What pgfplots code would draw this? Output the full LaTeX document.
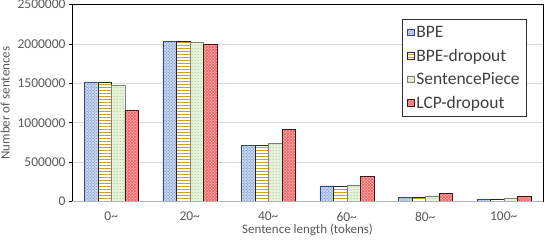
\documentclass[border=0pt]{standalone}
\usepackage{pgfplots}
\pgfplotsset{compat=1.18}
\usepackage{fontspec}
\setmainfont{Carlito}
\usetikzlibrary{patterns}
\definecolor{tickgray}{HTML}{595959}
\definecolor{gridgray}{HTML}{D9D9D9}
\definecolor{bpefill}{HTML}{C9D6EC}
\definecolor{bpedot}{HTML}{4472C4}
\definecolor{bpeedge}{HTML}{2F4A8A}
\definecolor{dropline}{HTML}{C9A227}
\definecolor{spfill}{HTML}{E6F2DA}
\definecolor{spdot}{HTML}{94C571}
\definecolor{spedge}{HTML}{7F7F7F}
\definecolor{lcpfill}{HTML}{F26B6B}
\definecolor{lcpedge}{HTML}{3A1A1A}
\begin{document}
\begin{tikzpicture}
\begin{axis}[
  scale only axis,
  width=471pt, height=197pt,
  ybar=0pt, bar width=13.5pt,
  xmin=-0.5, xmax=5.5,
  ymin=0, ymax=2500000,
  xtick={0,1,2,3,4,5},
  xticklabels={0\textasciitilde,20\textasciitilde,40\textasciitilde,60\textasciitilde,80\textasciitilde,100\textasciitilde},
  ytick={0,500000,1000000,1500000,2000000,2500000},
  scaled y ticks=false,
  yticklabel style={/pgf/number format/fixed,/pgf/number format/1000 sep={}},
  /pgf/number format/assume math mode=true,
  tick label style={font=\fontsize{13.5}{15}\selectfont, text=tickgray},
  label style={font=\fontsize{13}{15}\selectfont, text=tickgray},
  xticklabel style={yshift=-4pt},
  xlabel={Sentence length (tokens)},
  ylabel={Number of sentences},
  xlabel style={yshift=4pt},
  ylabel style={yshift=1pt},
  ymajorgrids, grid style={gridgray, line width=0.6pt},
  axis line style={black, line width=0.8pt},
  x tick style={draw=none},
  y tick style={black, line width=0.6pt},
  ytick pos=left, tick align=outside, major tick length=3pt,
  legend style={at={(0.966,0.924)}, anchor=north east, draw=black!80, line width=0.6pt,
    font=\fontsize{17.5}{19}\selectfont, text=black!75, row sep=6pt,
    inner xsep=5pt, inner ysep=4.5pt, legend cell align=left},
  legend image code/.code={\draw[#1] (0pt,-3pt) rectangle (6.5pt,3.5pt);},
]
\addplot[draw=bpeedge, fill=bpefill, postaction={pattern=crosshatch dots, pattern color=bpedot}]
  coordinates {(0,1516000) (1,2030000) (2,713000) (3,200000) (4,55000) (5,34000)};
\addplot[draw=black!85, fill=white, postaction={pattern=horizontal lines, pattern color=dropline}]
  coordinates {(0,1514000) (1,2029000) (2,712000) (3,199000) (4,55000) (5,34000)};
\addplot[draw=spedge, fill=spfill, postaction={pattern=dots, pattern color=spdot}]
  coordinates {(0,1481000) (1,2020000) (2,735000) (3,212000) (4,64000) (5,36000)};
\addplot[draw=lcpedge, fill=lcpfill, postaction={pattern=crosshatch dots, pattern color=white}]
  coordinates {(0,1155000) (1,1995000) (2,913000) (3,315000) (4,102000) (5,68000)};
\legend{BPE,BPE-dropout,SentencePiece,LCP-dropout}
\draw[black!30, line width=1.4pt] (rel axis cs:0,0) -- (rel axis cs:1,0);
\end{axis}
\pgfresetboundingbox
\path ([shift={(-72pt,-42pt)}]current axis.south west) rectangle ([shift={(2pt,4.5pt)}]current axis.north east);
\end{tikzpicture}
\end{document}
